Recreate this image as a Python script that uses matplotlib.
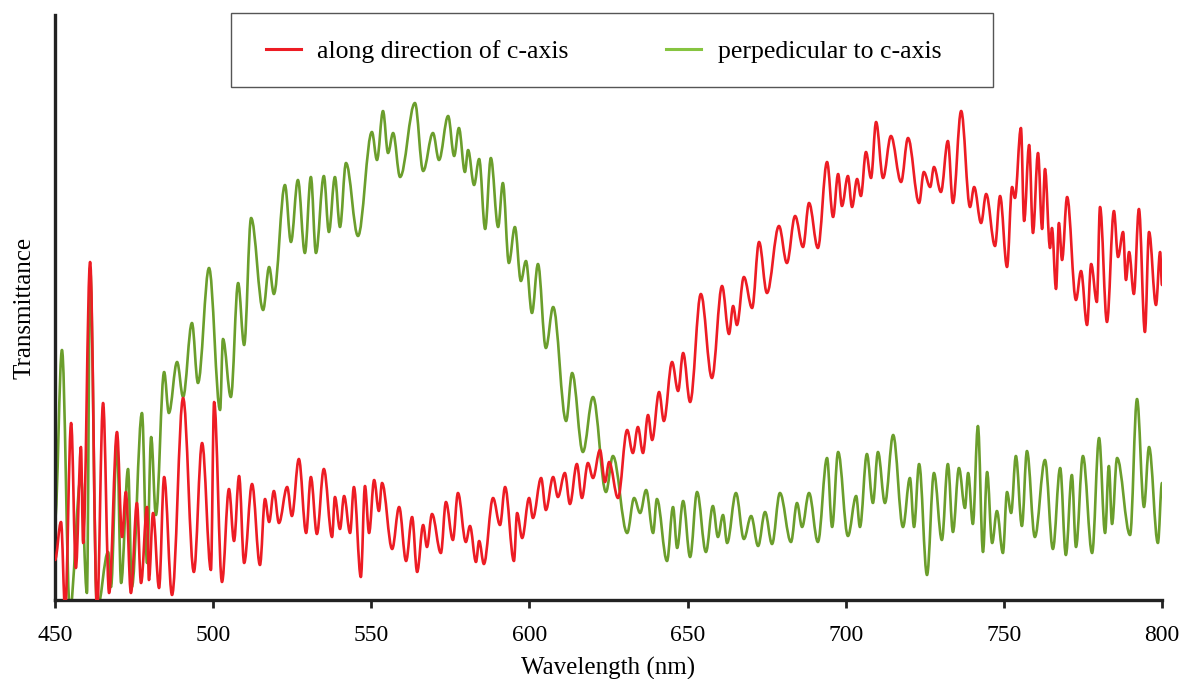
import matplotlib
matplotlib.use("Agg")
import matplotlib.pyplot as plt
from matplotlib.lines import Line2D
from matplotlib.patches import PathPatch, Rectangle
from matplotlib.path import Path

# Polarised transmittance spectra (arbitrary units), read at peaks and troughs
wl_along = [
    450.0, 451.9, 453.2, 455.1, 456.6, 458.2, 458.9, 461.1, 463.3, 465.2,
    467.1, 469.6, 471.2, 472.4, 474.0, 475.9, 477.2, 479.1, 479.7, 481.0,
    482.9, 484.5, 487.0, 490.5, 493.9, 496.5, 499.3, 500.3, 502.8, 505.0,
    506.6, 508.2, 509.8, 512.3, 514.8, 516.4, 517.7, 519.2, 520.8, 523.4,
    524.9, 527.1, 529.4, 530.9, 532.8, 535.0, 537.6, 538.5, 540.1, 541.4,
    543.3, 544.5, 546.7, 548.0, 549.3, 550.9, 552.4, 553.4, 556.6, 558.8,
    561.0, 562.9, 564.5, 566.4, 567.6, 569.2, 572.0, 573.6, 575.8, 577.4,
    579.9, 581.2, 583.1, 584.1, 585.6, 588.5, 590.7, 592.3, 595.1, 596.1,
    597.7, 599.9, 601.1, 603.7, 605.2, 607.5, 609.0, 611.2, 612.8, 615.0,
    616.6, 618.5, 620.1, 622.3, 623.9, 625.2, 628.0, 630.9, 632.7, 634.3,
    635.9, 637.5, 638.8, 641.0, 642.5, 645.1, 647.0, 648.6, 650.8, 654.2,
    657.7, 660.9, 663.1, 664.4, 665.6, 667.8, 670.4, 672.6, 675.1, 678.9,
    681.4, 684.0, 686.5, 688.4, 691.2, 694.1, 696.0, 697.6, 698.8, 700.7,
    702.0, 703.6, 704.8, 706.4, 708.0, 709.6, 711.8, 714.3, 717.5, 719.7,
    723.2, 724.7, 726.7, 727.9, 730.1, 732.3, 733.9, 736.5, 739.3, 740.6,
    742.8, 744.4, 747.2, 748.8, 751.0, 752.6, 753.5, 755.4, 756.4, 758.0,
    759.2, 760.8, 762.1, 763.0, 764.6, 765.2, 766.5, 767.4, 768.4, 770.0,
    772.8, 774.4, 776.3, 777.6, 779.4, 780.4, 782.6, 784.8, 786.1, 787.7,
    788.6, 789.6, 791.1, 792.7, 794.6, 795.9, 798.1, 799.4, 800.0,
]
t_along = [
    40, 78, -10, 177, 32, 153, 57, 338, -10, 197,
    7, 168, 63, 108, 7, 97, 17, 93, 20, 87,
    12, 123, 5, 202, 28, 157, 30, 198, 18, 111,
    59, 124, 37, 116, 35, 101, 78, 109, 77, 113,
    84, 141, 67, 123, 66, 131, 63, 103, 71, 104,
    67, 113, 23, 114, 67, 120, 89, 117, 51, 93,
    39, 83, 28, 75, 53, 86, 47, 98, 60, 107,
    58, 74, 38, 59, 36, 102, 75, 113, 39, 87,
    62, 102, 82, 122, 90, 123, 103, 127, 96, 136,
    102, 137, 122, 150, 118, 138, 102, 170, 147, 173,
    147, 185, 160, 208, 179, 238, 209, 247, 198, 306,
    222, 314, 266, 294, 275, 323, 292, 358, 307, 374,
    337, 384, 353, 397, 352, 438, 383, 426, 394, 424,
    393, 421, 404, 448, 422, 478, 422, 464, 418, 462,
    397, 428, 413, 433, 408, 459, 397, 489, 393, 413,
    377, 406, 354, 404, 333, 413, 402, 472, 379, 455,
    367, 447, 371, 431, 352, 372, 311, 377, 340, 403,
    300, 329, 275, 336, 298, 393, 278, 389, 343, 368,
    320, 348, 306, 391, 268, 368, 295, 348, 315,
]

wl_perp = [
    450.0, 452.2, 454.7, 458.2, 460.1, 461.1, 463.3, 466.8, 467.7, 469.6,
    470.9, 473.1, 474.3, 477.5, 479.1, 480.4, 481.9, 484.5, 486.0, 488.6,
    490.5, 493.3, 495.2, 498.7, 502.2, 503.1, 505.6, 507.9, 509.8, 512.0,
    515.8, 517.7, 519.2, 522.7, 524.6, 526.8, 529.0, 530.9, 532.5, 535.0,
    536.6, 538.5, 540.1, 542.0, 545.8, 550.2, 551.8, 553.7, 555.3, 556.9,
    559.1, 563.8, 566.4, 569.5, 571.4, 574.3, 576.2, 577.7, 579.6, 580.6,
    582.5, 584.1, 586.0, 587.8, 590.1, 591.6, 593.5, 595.4, 597.3, 598.9,
    600.8, 602.7, 605.2, 607.5, 611.6, 613.5, 616.9, 620.1, 624.2, 626.4,
    630.9, 633.1, 635.0, 636.9, 639.1, 640.3, 643.5, 645.4, 646.7, 648.6,
    650.8, 653.0, 655.8, 658.0, 659.6, 661.2, 662.5, 665.3, 667.8, 670.1,
    672.3, 674.5, 676.7, 679.2, 682.7, 684.6, 686.2, 688.4, 691.2, 694.1,
    695.7, 697.6, 700.7, 703.3, 704.5, 706.7, 708.6, 710.2, 712.4, 715.0,
    718.1, 720.3, 721.6, 723.2, 725.7, 727.9, 730.4, 732.3, 733.9, 735.8,
    737.7, 738.7, 740.2, 741.8, 743.4, 744.7, 746.3, 747.8, 749.7, 751.0,
    752.3, 753.8, 755.7, 757.3, 759.8, 763.0, 765.5, 767.8, 769.6, 771.5,
    772.8, 775.0, 777.9, 780.1, 782.0, 783.2, 784.2, 785.8, 789.9, 792.1,
    794.3, 795.9, 798.7, 800.0,
]
t_perp = [
    80, 250, -10, 123, 7, 332, -10, 48, 13, 160,
    17, 131, 13, 187, 37, 163, 85, 228, 187, 238,
    203, 277, 217, 332, 190, 261, 203, 317, 255, 382,
    290, 333, 306, 415, 358, 420, 347, 423, 347, 424,
    368, 423, 373, 437, 364, 468, 440, 489, 447, 467,
    423, 497, 429, 467, 440, 484, 444, 472, 428, 450,
    415, 441, 371, 442, 373, 417, 337, 373, 319, 339,
    287, 336, 252, 293, 179, 227, 148, 203, 108, 144,
    67, 102, 87, 110, 67, 101, 39, 93, 52, 99,
    43, 108, 48, 94, 63, 85, 57, 107, 61, 84,
    54, 88, 56, 107, 58, 97, 73, 107, 58, 142,
    73, 148, 64, 104, 73, 146, 97, 148, 97, 165,
    73, 122, 73, 136, 25, 127, 60, 136, 68, 132,
    92, 127, 76, 174, 48, 128, 57, 89, 47, 108,
    87, 144, 74, 149, 63, 140, 51, 132, 45, 125,
    53, 144, 47, 162, 67, 134, 76, 142, 65, 201,
    93, 153, 57, 117,
]

xticks = [450, 500, 550, 600, 650, 700, 750, 800]

RED = "#ed1c24"
GREEN = "#6b9e2c"
GREEN_KEY = "#86c440"

plt.rcParams["font.family"] = ["Liberation Serif", "DejaVu Serif"]


def extrema_curve(xs, ys):
    # every reading is a peak or a trough, so each one gets a flat tangent
    verts = [(xs[0], ys[0])]
    codes = [Path.MOVETO]
    for x0, y0, x1, y1 in zip(xs[:-1], ys[:-1], xs[1:], ys[1:]):
        d = (x1 - x0) * 0.36
        verts += [(x0 + d, y0), (x1 - d, y1), (x1, y1)]
        codes += [Path.CURVE4] * 3
    return Path(verts, codes)


fig = plt.figure(figsize=(11.82, 6.79), dpi=100)
ax = fig.add_axes([55 / 1182, 79 / 679, 1107 / 1182, 585 / 679])

for xs, ys, col, z in [(wl_perp, t_perp, GREEN, 2), (wl_along, t_along, RED, 3)]:
    ax.add_patch(PathPatch(extrema_curve(xs, ys), fill=False, edgecolor=col,
                           linewidth=1.9, joinstyle="round", capstyle="round", zorder=z))

ax.set_xlim(450, 800)
ax.set_ylim(0, 585)
ax.set_xticks(xticks)
ax.set_yticks([])
ax.tick_params(axis="x", direction="out", length=6, width=2, color="#222222",
               labelsize=17, pad=12)

for side in ("top", "right"):
    ax.spines[side].set_visible(False)
for side in ("left", "bottom"):
    ax.spines[side].set_linewidth(2.4)
    ax.spines[side].set_color("#222222")

ax.set_xlabel("Wavelength (nm)", fontsize=18, labelpad=8)
ax.set_ylabel("Transmittance", fontsize=18, labelpad=14)

# legend box sits on top of the plot area
fig.patches.append(Rectangle((231 / 1182, 592 / 679), 762 / 1182, 74 / 679,
                             transform=fig.transFigure, facecolor="white",
                             edgecolor="#555555", linewidth=1.0, zorder=5))
handles = [
    Line2D([], [], color=RED, linewidth=2.2),
    Line2D([], [], color=GREEN_KEY, linewidth=2.2),
]
leg = fig.legend(handles, ["along direction of c-axis", "perpedicular to c-axis"],
                 loc="center left", bbox_to_anchor=(266 / 1182, 627 / 679),
                 ncol=2, fontsize=18.5, frameon=False, handlelength=1.35,
                 handletextpad=0.65, columnspacing=3.8, borderpad=0, borderaxespad=0)
leg.set_zorder(6)

fig.savefig("out.png", dpi=100)
